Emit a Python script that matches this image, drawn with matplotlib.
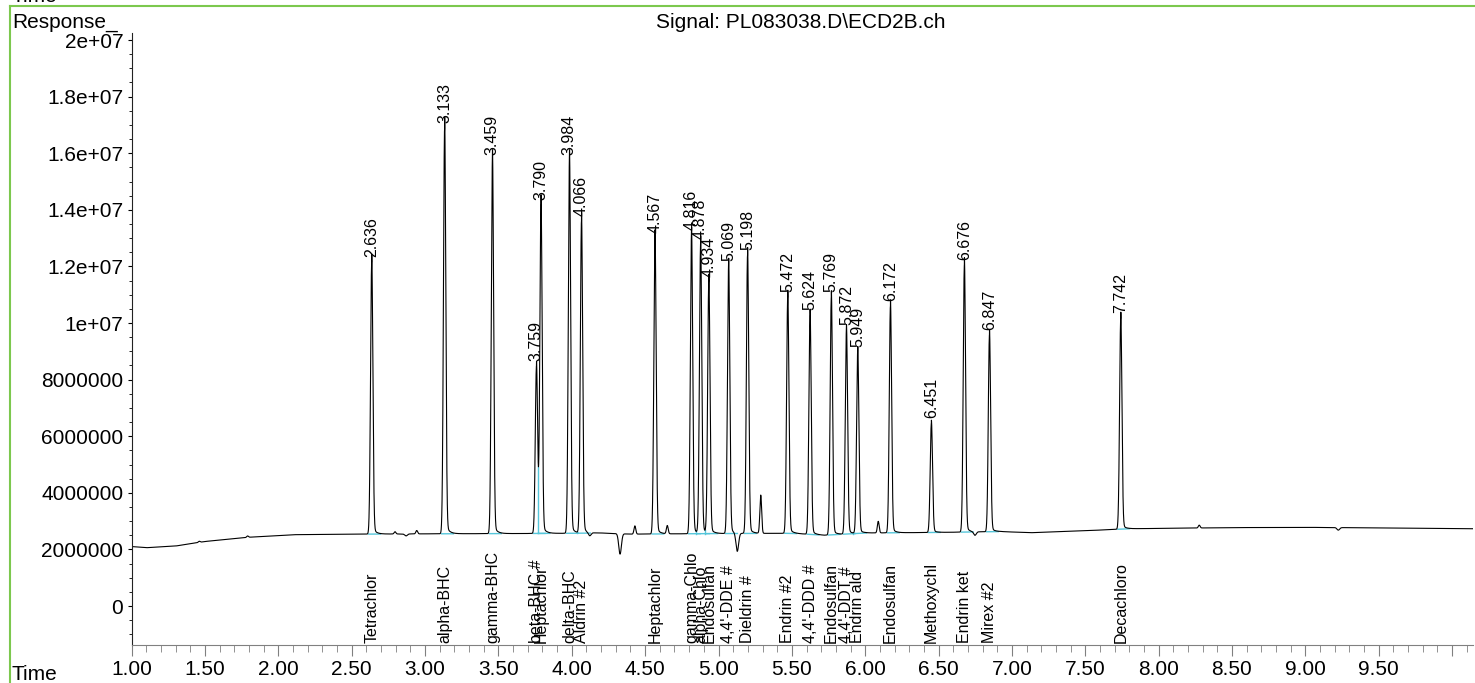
import matplotlib
matplotlib.use("Agg")
import matplotlib.pyplot as plt
import numpy as np
from matplotlib.ticker import MultipleLocator, FuncFormatter

plt.rcParams['font.family'] = ['Liberation Sans', 'DejaVu Sans']

# peak table: retention time, apex response, compound
peak_rt = [2.636, 3.133, 3.459, 3.759, 3.790, 3.984, 4.066, 4.567, 4.816, 4.878,
           4.934, 5.069, 5.198, 5.472, 5.624, 5.769, 5.872, 5.949, 6.172, 6.451,
           6.676, 6.847, 7.742]
peak_top = [1.216e7, 1.688e7, 1.576e7, 8.48e6, 1.417e7, 1.576e7, 1.360e7, 1.301e7, 1.311e7, 1.279e7,
            1.146e7, 1.203e7, 1.240e7, 1.093e7, 1.028e7, 1.091e7, 9.75e6, 8.99e6, 1.060e7, 6.46e6,
            1.205e7, 9.58e6, 1.018e7]
peak_name = ["Tetrachlor", "alpha-BHC", "gamma-BHC", "beta-BHC #", "Heptachlor", "delta-BHC",
             "Aldrin #2", "Heptachlor", "gamma-Chlo", "alpha-Chlo", "Endosulfan", "4,4'-DDE #",
             "Dieldrin #", "Endrin #2", "4,4'-DDD #", "Endosulfan", "4,4'-DDT #", "Endrin ald",
             "Endosulfan", "Methoxychl", "Endrin ket", "Mirex #2", "Decachloro"]

# unlabelled bumps and dips (time, height above/below baseline)
minor_rt = [1.46, 1.79, 2.795, 2.87, 2.943, 4.122, 4.329, 4.43, 4.651, 5.128, 5.288, 6.089, 6.748, 8.277, 9.225]
minor_h = [0.04e6, 0.05e6, 0.08e6, -0.07e6, 0.12e6, -0.12e6, -0.72e6, 0.29e6, 0.29e6, -0.65e6, 1.35e6,
           0.41e6, -0.13e6, 0.10e6, -0.09e6]

# baseline drift
base_t = [1.00, 1.10, 1.30, 1.50, 1.80, 2.10, 2.60, 3.00, 3.60, 4.00, 4.20, 4.40, 5.00, 5.50, 5.72,
          6.00, 6.50, 6.92, 7.13, 7.50, 7.80, 8.50, 9.00, 9.50, 10.15]
base_v = [2.10e6, 2.06e6, 2.12e6, 2.28e6, 2.43e6, 2.52e6, 2.54e6, 2.55e6, 2.56e6, 2.57e6, 2.58e6,
          2.54e6, 2.56e6, 2.57e6, 2.50e6, 2.58e6, 2.60e6, 2.63e6, 2.59e6, 2.66e6, 2.73e6, 2.77e6,
          2.78e6, 2.76e6, 2.73e6]

t = np.arange(1.0, 10.15, 0.0005)
base = np.interp(t, base_t, base_v)
sig = base.copy()
for rt, top in zip(peak_rt, peak_top):
    h = top - np.interp(rt, base_t, base_v)
    sig += h * np.exp(-(t - rt) ** 2 / (2 * 0.0078 ** 2))
    dt = t - rt
    sig += np.where(dt > 0, h * 0.03 * np.exp(-np.clip(dt, 0, None) / 0.022), 0)
for rt, h in zip(minor_rt, minor_h):
    s = 0.009 if h < 0 else 0.006
    sig += h * np.exp(-(t - rt) ** 2 / (2 * s ** 2))

fig = plt.figure(figsize=(14.75, 6.83), dpi=100)
ax = fig.add_axes([131.7 / 1475, 38 / 683, (1473 - 131.7) / 1475, (645 - 33) / 683])

cyan = "#55c6da"
# integration baselines
for rt in peak_rt:
    a, b = rt - 0.02, rt + 0.06
    ax.plot([a, b], [np.interp(a, base_t, base_v), np.interp(b, base_t, base_v)], color=cyan, lw=1.0)
# drop lines between unresolved neighbours
for r1, r2 in zip(peak_rt[:-1], peak_rt[1:]):
    if r2 - r1 < 0.1:
        m = (t > r1) & (t < r2)
        i = np.argmin(sig[m])
        tv = t[m][i]
        ax.plot([tv, tv], [np.interp(tv, base_t, base_v), sig[m][i]], color=cyan, lw=1.0)

ax.plot(t, sig, color="black", lw=0.8)

for rt, top, name in zip(peak_rt, peak_top, peak_name):
    ax.annotate("%.3f" % rt, (rt, top), xytext=(0, 3.5), textcoords="offset points",
                rotation=90, ha="center", va="bottom", fontsize=11.5)
    ax.text(rt, 0.004, name, transform=ax.get_xaxis_transform(), rotation=90,
            ha="center", va="bottom", fontsize=11.5)

ax.set_xlim(1.0, 1.0 + (1473 - 131.7) / 146.7)
ax.set_ylim(-1.378e6, 2.0248e7)

ax.xaxis.set_major_locator(MultipleLocator(0.5))
ax.xaxis.set_minor_locator(MultipleLocator(0.1))
ax.xaxis.set_major_formatter(FuncFormatter(lambda v, p: "" if v > 9.9 else "%.2f" % v))
ax.yaxis.set_major_locator(MultipleLocator(2e6))
ax.yaxis.set_minor_locator(MultipleLocator(5e5))
ylab = {0: "0", 2: "2000000", 4: "4000000", 6: "6000000", 8: "8000000", 10: "1e+07",
        12: "1.2e+07", 14: "1.4e+07", 16: "1.6e+07", 18: "1.8e+07", 20: "2e+07"}
ax.yaxis.set_major_formatter(FuncFormatter(lambda v, p: ylab.get(int(round(v / 1e6)), "")))

ax.spines["top"].set_visible(False)
ax.spines["right"].set_visible(False)
ax.spines["bottom"].set_color("#808080")
ax.spines["left"].set_color("#222222")
ax.tick_params(axis="x", which="major", length=8, color="#808080", labelsize=15, pad=3)
ax.tick_params(axis="x", which="minor", length=5, color="#808080")
ax.tick_params(axis="y", which="major", length=3, labelsize=15, pad=3)
ax.tick_params(axis="y", which="minor", length=2)

green = "#7cc84e"
fig.add_artist(plt.Line2D([10 / 1475, 1], [1 - 6 / 683, 1 - 6 / 683], color=green, lw=1.5, transform=fig.transFigure))
fig.add_artist(plt.Line2D([10 / 1475, 10 / 1475], [0, 1 - 6 / 683], color=green, lw=1.5, transform=fig.transFigure))

fig.text(12 / 1475, 1 + 3 / 683, "Time", fontsize=15, va="center", ha="left")
fig.text(12 / 1475, 1 - 28 / 683, "Response_", fontsize=15, va="baseline", ha="left")
fig.text(801 / 1475, 1 - 28 / 683, "Signal: PL083038.D\\ECD2B.ch", fontsize=15, va="baseline", ha="center")
fig.text(12 / 1475, 3 / 683, "Time", fontsize=15, va="baseline", ha="left")

fig.savefig("out.png", dpi=100)
